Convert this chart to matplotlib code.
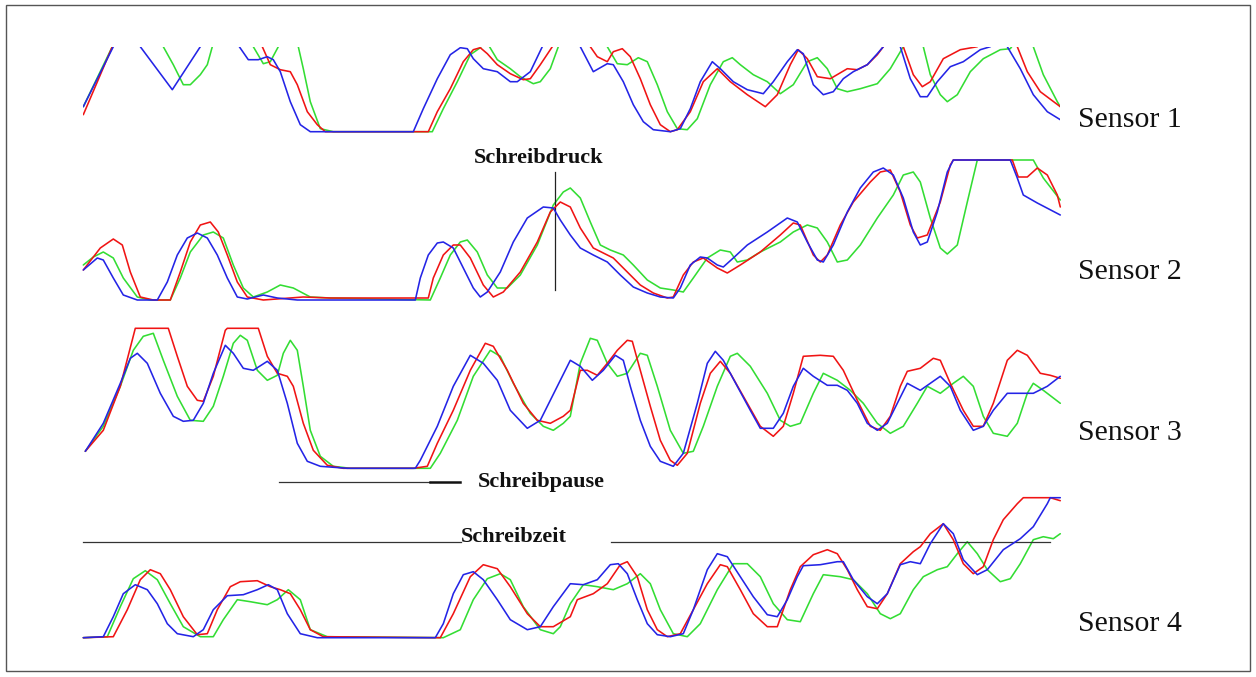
import matplotlib
matplotlib.use("Agg")
import matplotlib.pyplot as plt
from matplotlib.patches import Rectangle

# ---------------- data (time in samples, level in sensor units 0..140) -------------
s1_blue_t = [0, 30, 43, 57, 89, 117, 137, 156, 165, 175, 184, 190, 197, 207, 217, 227, 330, 340, 354, 367, 377, 384,
             390, 400, 414, 427, 434, 447, 459, 478, 497, 510, 524, 530, 540, 550, 560, 570, 587, 597, 607, 617, 629,
             637, 650, 664, 680, 690, 704, 714, 720, 730, 740, 750, 760, 770, 784, 794, 800, 808, 817, 827, 837, 844,
             854, 867, 880, 897, 907, 915, 924, 937, 950, 964, 977]
s1_blue_v = [25, 85, 150, 85, 42, 85, 150, 85, 72, 72, 75, 72, 60, 30, 7, 0, 0, 23, 53, 77, 84, 83,
             73, 63, 60, 50, 50, 60, 85, 140, 85, 60, 68, 67, 50, 27, 10, 2, 0, 3, 23, 50, 70,
             63, 50, 42, 38, 50, 70, 82, 78, 47, 37, 40, 53, 60, 67, 78, 85, 110, 85, 53, 35, 35,
             50, 65, 70, 82, 85, 95, 85, 63, 37, 20, 12]

s1_red_t = [0, 29, 67, 137, 179, 187, 197, 207, 214, 224, 234, 242, 345, 354, 367, 380, 390, 397, 404, 414, 427, 440,
            447, 457, 469, 487, 507, 514, 524, 530, 539, 547, 557, 567, 577, 587, 594, 607, 620, 634, 647, 664, 682,
            694, 707, 715, 724, 734, 747, 764, 774, 784, 794, 800, 810, 820, 830, 839, 847, 860, 877, 894, 912, 934,
            944, 957, 977]
s1_red_v = [17, 85, 180, 180, 85, 67, 62, 60, 47, 20, 7, 0, 0, 20, 43, 70, 82, 84, 78, 67, 58, 52,
            53, 67, 85, 130, 85, 75, 70, 80, 83, 75, 53, 27, 7, 0, 2, 20, 50, 63, 50, 37, 25,
            37, 67, 82, 73, 55, 53, 63, 62, 67, 77, 85, 110, 85, 57, 45, 50, 73, 82, 85, 110, 85,
            60, 40, 25]

s1_green_t = [0, 29, 52, 80, 90, 100, 107, 117, 124, 129, 149, 170, 180, 187, 195, 205, 215, 220, 227, 237, 250, 349,
              360, 374, 387, 397, 402, 414, 427, 437, 450, 457, 467, 475, 500, 524, 534, 544, 555, 564, 574, 584, 594,
              604, 614, 627, 640, 649, 657, 670, 684, 697, 710, 724, 734, 744, 754, 764, 777, 794, 807, 820, 830, 840,
              847, 857, 864, 874, 887, 900, 917, 927, 939, 950, 960, 974, 977]
s1_green_v = [25, 85, 130, 85, 67, 47, 47, 57, 67, 85, 130, 85, 68, 70, 85, 100, 85, 63, 30, 3, 0, 0,
              23, 50, 77, 84, 92, 72, 63, 55, 48, 50, 63, 85, 120, 85, 68, 67, 74, 70, 47, 20, 3,
              2, 13, 47, 70, 74, 67, 57, 50, 38, 47, 70, 74, 63, 43, 40, 43, 48, 63, 85, 110, 85,
              57, 37, 30, 37, 60, 73, 82, 83, 100, 85, 57, 30, 25]

s2_blue_t = [0, 14, 20, 30, 40, 54, 74, 84, 94, 104, 114, 124, 134, 144, 154, 164, 180, 194, 214, 332, 337, 345, 354,
             360, 370, 380, 390, 397, 404, 417, 430, 444, 460, 470, 477, 487, 497, 510, 524, 537, 550, 564, 577, 590,
             597, 607, 617, 624, 634, 640, 650, 664, 684, 704, 714, 724, 734, 740, 750, 764, 777, 790, 800, 810, 820,
             830, 837, 844, 854, 864, 870, 927, 934, 940, 954, 977]
s2_blue_v = [30, 42, 40, 22, 5, 0, 0, 18, 45, 62, 67, 62, 45, 22, 3, 1, 5, 2, 0, 0, 22, 45, 57,
             58, 52, 32, 12, 3, 8, 28, 58, 82, 93, 92, 80, 65, 52, 45, 38, 25, 13, 7, 3, 2,
             12, 35, 43, 42, 35, 33, 42, 55, 68, 82, 78, 58, 40, 38, 55, 88, 112, 128, 132, 125, 102,
             68, 55, 58, 88, 128, 140, 140, 122, 105, 97, 85]

s2_red_t = [0, 17, 30, 39, 47, 57, 70, 87, 97, 107, 117, 127, 135, 144, 154, 164, 180, 220, 247, 345, 350, 360, 370,
            377, 387, 400, 410, 420, 437, 454, 467, 477, 487, 497, 510, 530, 544, 557, 570, 584, 590, 600, 610, 620,
            634, 644, 657, 677, 697, 710, 717, 730, 737, 744, 757, 770, 787, 797, 807, 817, 827, 834, 844, 857, 867,
            870, 929, 935, 944, 954, 964, 974, 977]
s2_red_v = [30, 52, 61, 55, 28, 3, 0, 0, 28, 58, 75, 78, 68, 45, 18, 3, 0, 3, 2, 2, 22, 45, 55,
            55, 42, 15, 3, 8, 28, 58, 88, 98, 93, 72, 52, 42, 28, 15, 7, 2, 3, 25, 38, 42,
            32, 27, 35, 48, 65, 77, 75, 45, 38, 45, 75, 98, 118, 128, 130, 108, 75, 62, 65, 98, 135,
            140, 140, 123, 123, 132, 125, 105, 93]

s2_green_t = [0, 10, 20, 30, 40, 54, 67, 87, 97, 107, 120, 130, 140, 150, 160, 170, 184, 197, 210, 227, 247, 347, 357,
              367, 377, 384, 394, 404, 414, 424, 437, 454, 470, 480, 487, 497, 507, 517, 527, 540, 550, 564, 577, 590,
              600, 610, 624, 637, 647, 654, 664, 677, 697, 710, 724, 734, 744, 754, 764, 777, 794, 810, 820, 830, 837,
              847, 857, 864, 874, 884, 894, 950, 960, 977]
s2_green_v = [35, 43, 48, 42, 22, 3, 0, 0, 22, 48, 65, 68, 62, 35, 12, 3, 8, 15, 12, 3, 2, 0, 22,
              45, 58, 60, 48, 25, 12, 12, 25, 55, 95, 108, 112, 102, 78, 55, 50, 45, 35, 20, 12, 10,
              8, 22, 42, 50, 48, 38, 40, 48, 58, 68, 75, 72, 58, 38, 40, 55, 82, 105, 125, 128, 118,
              82, 52, 46, 55, 98, 140, 140, 122, 100]

s3_red_t = [2, 20, 37, 52, 85, 94, 104, 114, 120, 130, 142, 144, 175, 184, 194, 204, 210, 220, 230, 244, 260, 330, 344,
            354, 370, 387, 402, 410, 424, 440, 454, 467, 480, 487, 497, 504, 514, 524, 534, 544, 549, 557, 567, 577,
            587, 594, 604, 617, 627, 637, 647, 664, 677, 690, 700, 710, 720, 737, 750, 760, 774, 787, 797, 807, 817,
            824, 837, 850, 857, 867, 880, 890, 900, 910, 924, 934, 944, 957, 967, 977]
s3_red_v = [17, 38, 82, 140, 140, 112, 82, 68, 67, 92, 138, 140, 140, 112, 95, 92, 82, 45, 18, 3, 0, 0, 2,
            25, 58, 98, 125, 122, 98, 65, 48, 45, 52, 58, 98, 98, 93, 105, 118, 128, 127, 98, 62, 28,
            8, 3, 15, 65, 95, 107, 95, 65, 42, 32, 42, 75, 112, 113, 112, 98, 68, 42, 38, 52, 82,
            97, 100, 110, 108, 85, 58, 42, 42, 65, 108, 118, 113, 95, 93, 90]

s3_green_t = [2, 20, 37, 50, 60, 70, 80, 94, 107, 120, 130, 140, 150, 157, 164, 174, 184, 194, 200, 207, 214, 220, 227,
              237, 250, 267, 347, 357, 374, 390, 407, 417, 430, 447, 460, 470, 480, 487, 497, 507, 514, 524, 534, 544,
              557, 564, 574, 587, 600, 610, 620, 634, 647, 654, 667, 684, 697, 707, 717, 730, 740, 754, 767, 780, 794,
              807, 820, 834, 844, 857, 870, 880, 890, 900, 910, 924, 934, 944, 950, 960, 977]
s3_green_v = [17, 42, 82, 118, 132, 135, 108, 72, 48, 47, 62, 92, 125, 133, 128, 98, 88, 93, 115, 128, 118, 82, 38,
              12, 2, 0, 0, 15, 48, 92, 118, 112, 85, 55, 42, 38, 45, 52, 105, 130, 128, 105, 92, 95,
              115, 113, 82, 38, 15, 17, 42, 82, 112, 115, 102, 75, 48, 42, 45, 75, 95, 88, 78, 65, 45,
              35, 42, 65, 82, 75, 85, 92, 82, 52, 35, 32, 45, 75, 85, 78, 65]

s3_blue_t = [2, 20, 37, 47, 54, 64, 77, 90, 100, 110, 120, 130, 142, 150, 160, 170, 184, 194, 204, 214, 224, 237, 264,
             332, 337, 354, 370, 387, 400, 414, 427, 444, 457, 474, 487, 497, 509, 520, 532, 540, 547, 557, 567, 577,
             590, 600, 614, 624, 632, 640, 654, 667, 677, 690, 700, 710, 720, 730, 744, 754, 764, 774, 784, 794, 804,
             814, 824, 837, 847, 857, 867, 877, 890, 900, 910, 924, 937, 950, 964, 977]
s3_blue_v = [17, 45, 85, 110, 115, 105, 75, 52, 47, 48, 65, 95, 123, 115, 100, 98, 107, 98, 65, 25, 7, 2, 0,
             0, 8, 42, 82, 113, 105, 88, 58, 40, 48, 82, 108, 102, 88, 98, 113, 108, 82, 48, 22, 7,
             2, 15, 65, 105, 117, 108, 82, 58, 40, 40, 55, 82, 100, 92, 83, 83, 78, 65, 45, 38, 45,
             65, 85, 78, 85, 92, 82, 58, 38, 42, 58, 75, 75, 75, 82, 92]

s4_blue_t = [0, 20, 30, 40, 52, 64, 74, 84, 94, 110, 120, 130, 144, 160, 174, 185, 194, 204, 217, 234, 352, 360, 370,
             380, 390, 400, 414, 427, 444, 457, 470, 487, 500, 514, 527, 535, 544, 554, 564, 574, 587, 600, 610, 624,
             634, 644, 657, 670, 684, 694, 704, 714, 720, 737, 754, 760, 770, 784, 794, 804, 817, 827, 837, 847, 860,
             870, 880, 894, 904, 920, 937, 950, 964, 967, 977]
s4_blue_v = [0, 1, 21, 44, 53, 48, 34, 14, 4, 1, 8, 28, 42, 43, 48, 53, 48, 24, 4, 0, 0, 14, 44,
             63, 66, 58, 38, 18, 8, 11, 31, 54, 53, 58, 73, 74, 64, 38, 14, 3, 1, 4, 28, 68,
             84, 81, 61, 41, 23, 21, 38, 61, 72, 73, 76, 76, 58, 41, 34, 44, 73, 76, 74, 94, 114,
             104, 78, 63, 68, 88, 99, 111, 134, 140, 140]

s4_red_t = [0, 30, 44, 57, 67, 77, 87, 100, 114, 124, 134, 147, 157, 174, 187, 197, 207, 217, 227, 240, 357, 370, 387,
            400, 414, 427, 444, 457, 470, 487, 494, 510, 524, 537, 544, 554, 564, 574, 584, 597, 610, 624, 637, 644,
            657, 670, 684, 694, 707, 717, 730, 744, 754, 764, 774, 784, 794, 804, 817, 830, 837, 847, 860, 870, 880,
            890, 900, 910, 920, 934, 940, 967, 977]
s4_red_v = [0, 1, 28, 58, 68, 64, 48, 21, 3, 4, 28, 51, 56, 57, 51, 48, 44, 28, 8, 1, 0, 24, 61,
            73, 69, 51, 24, 11, 11, 21, 38, 44, 54, 73, 76, 61, 28, 8, 1, 4, 28, 54, 73, 71,
            48, 24, 11, 11, 48, 71, 83, 88, 84, 68, 48, 31, 29, 44, 74, 86, 91, 104, 114, 98, 74,
            64, 71, 98, 118, 134, 140, 140, 137]

s4_green_t = [0, 24, 37, 50, 62, 74, 87, 100, 117, 130, 140, 154, 167, 184, 194, 205, 217, 227, 244, 360, 377, 390, 404,
              417, 427, 440, 457, 470, 477, 487, 500, 514, 530, 544, 557, 567, 577, 590, 604, 617, 634, 650, 664, 677,
              690, 704, 717, 730, 740, 757, 770, 784, 797, 807, 817, 830, 840, 854, 864, 874, 884, 894, 904, 917, 927,
              937, 950, 960, 970, 977]
s4_green_v = [0, 1, 31, 59, 67, 58, 34, 11, 1, 1, 18, 38, 36, 33, 38, 48, 38, 8, 1, 0, 8, 38, 59,
              64, 58, 31, 8, 4, 11, 34, 53, 51, 48, 54, 64, 54, 28, 4, 1, 14, 48, 74, 74, 61,
              34, 18, 16, 44, 63, 61, 58, 44, 24, 19, 24, 48, 61, 68, 71, 84, 96, 84, 68, 56, 59,
              74, 98, 101, 99, 104]

sensor_labels = ["Sensor 1", "Sensor 2", "Sensor 3", "Sensor 4"]

# annotation values (time / level in the respective band)
druck_t, druck_lo, druck_hi = 471.5, 10, 128          # sensor 2
pause_t0, pause_t1, pause_t2, pause_level = 196, 347, 377, -13.7   # sensor 3
zeit_a, zeit_b, zeit_c, zeit_d, zeit_level = 0, 378, 528, 967, 95.7  # sensor 4

# ---------------- layout ----------------
W, H = 1256, 677
fig = plt.figure(figsize=(W / 100, H / 100), dpi=100)
fig.patch.set_facecolor("white")

RED, GREEN, BLUE = "#f01414", "#33dd33", "#2424e6"
LW = 1.15

band_bottom_px = [131.7, 300.0, 468.3, 637.7]
band_top_lim = [85, 143, 143, 143]
x_left_px, x_width = 83.3, 977.0
PAD = 3

series = [
    (s1_red_t, s1_red_v, s1_green_t, s1_green_v, s1_blue_t, s1_blue_v),
    (s2_red_t, s2_red_v, s2_green_t, s2_green_v, s2_blue_t, s2_blue_v),
    (s3_red_t, s3_red_v, s3_green_t, s3_green_v, s3_blue_t, s3_blue_v),
    (s4_red_t, s4_red_v, s4_green_t, s4_green_v, s4_blue_t, s4_blue_v),
]

axes = []
for i, (rt, rv, gt, gv, bt, bv) in enumerate(series):
    b = band_bottom_px[i]
    top = band_top_lim[i]
    ax = fig.add_axes([x_left_px / W, 1 - (b + PAD) / H, x_width / W, (top + PAD) / H])
    ax.set_xlim(0, x_width)
    ax.set_ylim(-PAD, top)
    ax.axis("off")
    clip = (i == 0)
    for t, v, c, z in ((gt, gv, GREEN, 2), (rt, rv, RED, 3), (bt, bv, BLUE, 4)):
        ax.plot(t, v, color=c, lw=LW, clip_on=clip, zorder=z,
                solid_joinstyle="round", solid_capstyle="round")
    axes.append(ax)

# sensor labels
label_baseline_px = [127, 279, 440, 631]
for lab, yb in zip(sensor_labels, label_baseline_px):
    fig.text(1078 / W, 1 - yb / H, lab, fontsize=21.5, family="Liberation Serif",
             ha="left", va="baseline", color="#111111")

# annotations
ax2, ax3, ax4 = axes[1], axes[2], axes[3]
ax2.plot([druck_t, druck_t], [druck_lo, druck_hi], color="#222222", lw=0.9, clip_on=False)
fig.text(538.5 / W, 1 - 163 / H, "Schreibdruck", fontsize=16, family="Liberation Serif",
         weight="bold", ha="center", va="baseline", color="#111111")

ax3.plot([pause_t0, pause_t1], [pause_level, pause_level], color="#333333", lw=0.9, clip_on=False)
ax3.plot([pause_t1, pause_t2], [pause_level, pause_level], color="#111111", lw=1.8, clip_on=False)
fig.text(478 / W, 1 - 487 / H, "Schreibpause", fontsize=16, family="Liberation Serif",
         weight="bold", ha="left", va="baseline", color="#111111")

ax4.plot([zeit_a, zeit_b], [zeit_level, zeit_level], color="#333333", lw=0.9, clip_on=False)
ax4.plot([zeit_c, zeit_d], [zeit_level, zeit_level], color="#333333", lw=0.9, clip_on=False)
fig.text(461 / W, 1 - 542 / H, "Schreibzeit", fontsize=16, family="Liberation Serif",
         weight="bold", ha="left", va="baseline", color="#111111")

# outer frame
fig.patches.append(Rectangle((6 / W, 1 - 671 / H), (1250 - 6) / W, (671 - 5) / H,
                             transform=fig.transFigure, fill=False, edgecolor="#555555", lw=1.0))

fig.savefig("out.png", dpi=100, facecolor="white")
